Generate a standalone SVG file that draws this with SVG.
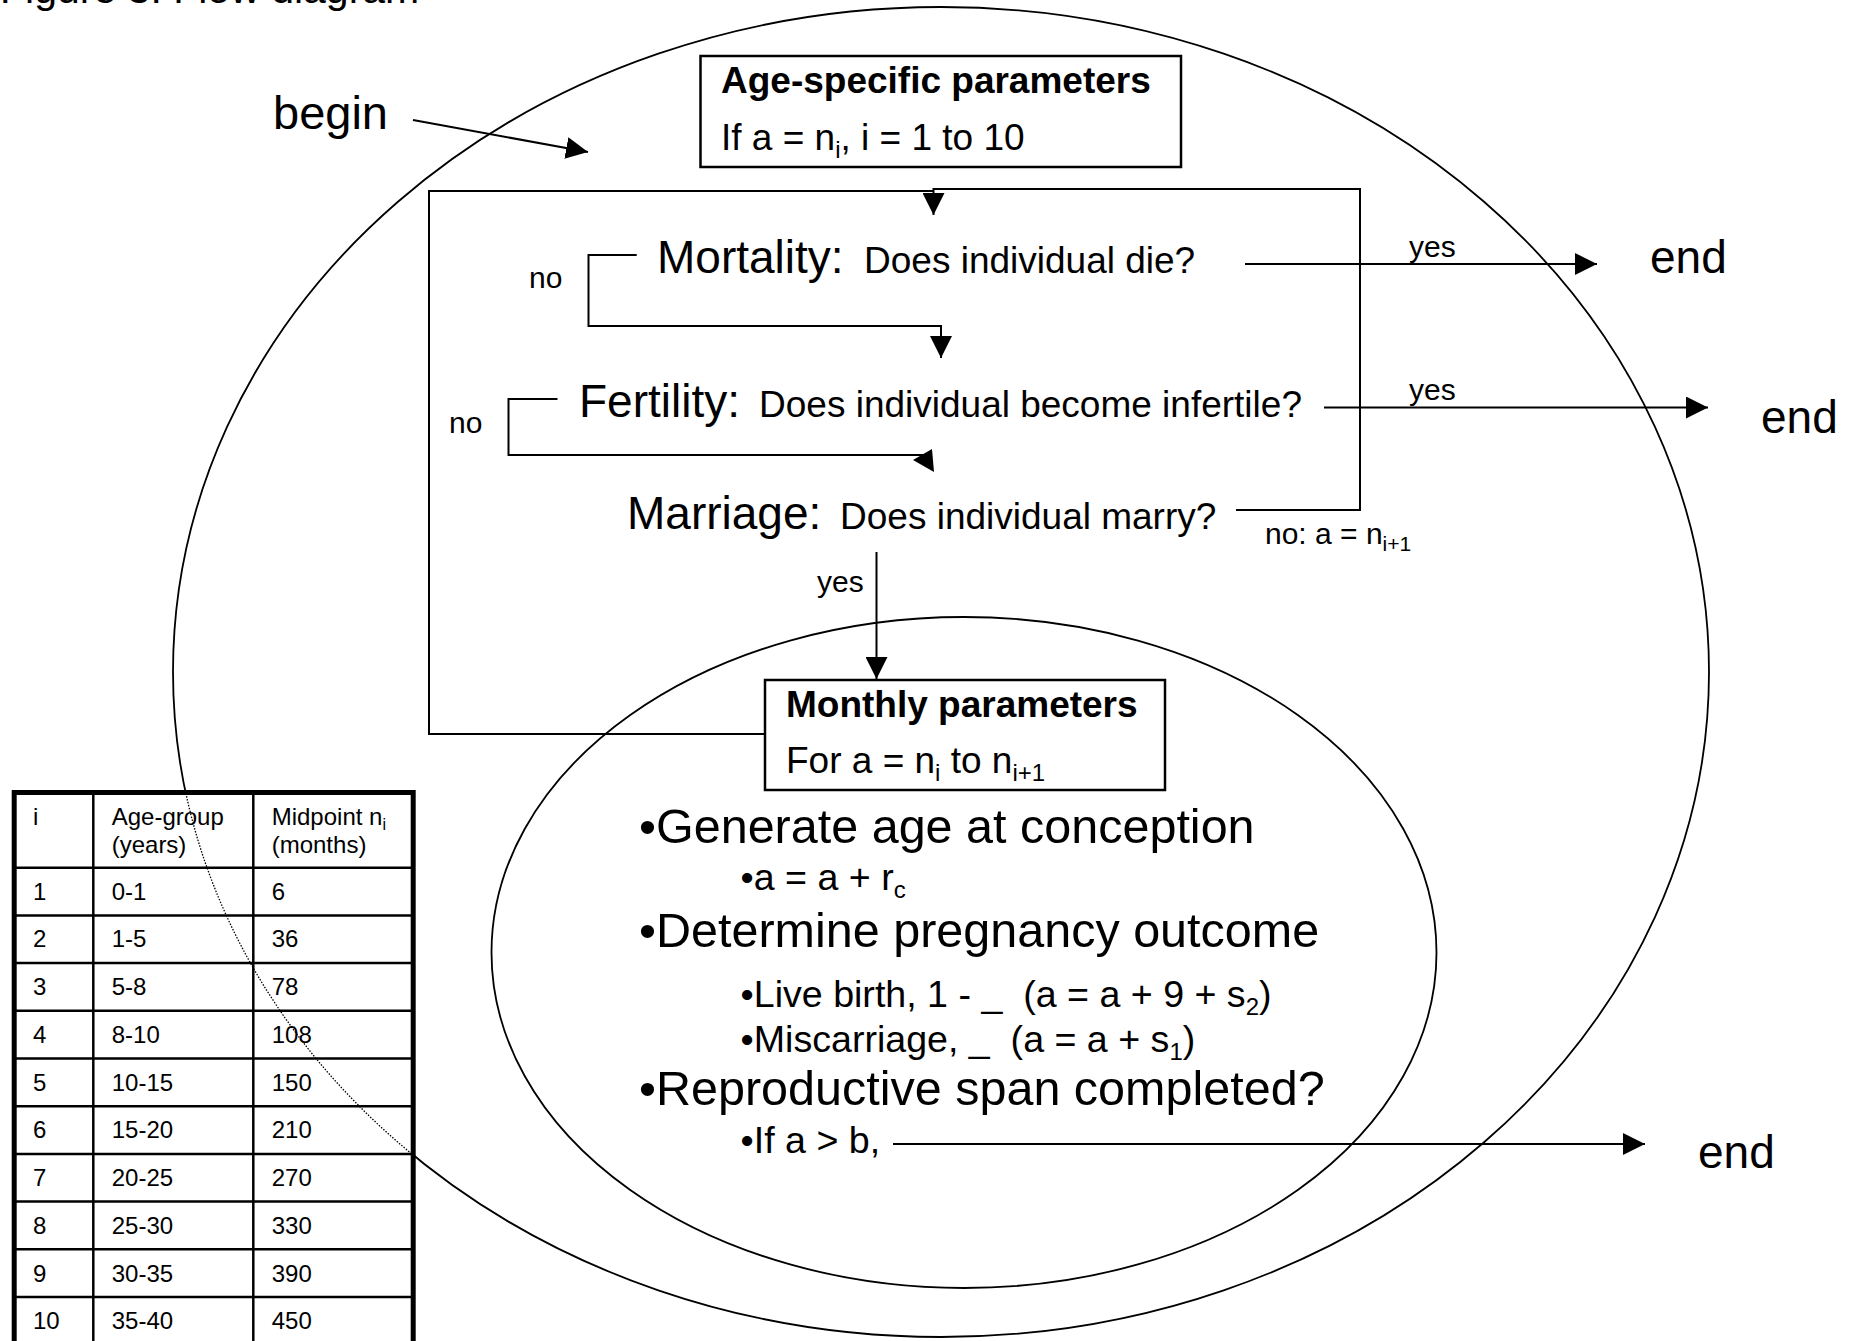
<svg xmlns="http://www.w3.org/2000/svg" width="1856" height="1341" viewBox="0 0 1856 1341">
<defs>
<style>
text{font-family:"Liberation Sans",Arial,Helvetica,sans-serif;fill:#000;white-space:pre}
.t46{font-size:46px}.t47{font-size:47px}.big{font-size:48.5px}.t37{font-size:37px}.s37{font-size:37.6px}.t30{font-size:30px}.t24{font-size:24px}
.b37{font-size:37px;font-weight:bold}
.ln{fill:none;stroke:#000;stroke-width:2}
.arr{fill:none;stroke:#000;stroke-width:2;marker-end:url(#ah)}
.ell{fill:none;stroke:#000;stroke-width:1.8}
.box{fill:#fff;stroke:#000;stroke-width:2.5}
</style>
<marker id="ah" markerUnits="userSpaceOnUse" markerWidth="22" markerHeight="22" refX="20" refY="10" orient="auto" viewBox="0 0 20 20">
<path d="M0,0 L20,10 L0,20 Z" fill="#000"/>
</marker>
<clipPath id="tclip"><rect x="16.5" y="795" width="394" height="546"/></clipPath>
</defs>
<rect width="1856" height="1341" fill="#fff"/>

<text x="0" y="3" style="font-size:41px">Figure 3: Flow diagram</text>

<g id="outer-ellipse"><ellipse class="ell" cx="941" cy="672" rx="768" ry="665"/></g>
<g id="inner-ellipse"><ellipse class="ell" cx="964" cy="952.5" rx="472.5" ry="335.5"/></g>

<g id="connectors">
<path class="arr" d="M413,120 L588,152"/>
<path class="ln" d="M765,734 H429 V191 H933.5"/>
<path class="arr" d="M1236,510 H1360 V189 H933.5 V215"/>
<path class="arr" d="M636.7,255 H588.5 V326 H941 V358"/>
<path class="arr" d="M1245,264 H1597"/>
<path class="ln" d="M557.5,399 H508.5 V455 H925"/>
<polygon points="913,460 932,449 934,472" fill="#000"/>
<path class="arr" d="M1324,407.5 H1708"/>
<path class="arr" d="M876.5,552 V679"/>
<path class="arr" d="M893,1144 H1645"/>
</g>

<g id="begin"><text class="t47" x="273" y="129">begin</text></g>
<g id="end1"><text class="t46" x="1650" y="273">end</text></g>
<g id="end2"><text class="t46" x="1761" y="433">end</text></g>
<g id="end3"><text class="t46" x="1698" y="1168">end</text></g>

<g id="age-specific">
<rect class="box" x="700.5" y="56" width="480.5" height="111"/>
<text class="b37" x="721" y="93">Age-specific parameters</text>
<text class="t37" x="721" y="150">If a = n<tspan font-size="24" dy="8">i</tspan><tspan dy="-8">, i = 1 to 10</tspan></text>
</g>

<g id="mortality">
<text class="t46" x="657" y="273">Mortality:</text>
<text class="t37" x="864" y="273">Does individual die?</text>
</g>
<g id="fertility">
<text class="t46" x="579" y="417">Fertility:</text>
<text class="t37" x="759" y="417">Does individual become infertile?</text>
</g>
<g id="marriage">
<text class="t46" x="627" y="529">Marriage:</text>
<text class="t37" x="840" y="529">Does individual marry?</text>
</g>

<g id="labels">
<text class="t30" x="529" y="288">no</text>
<text class="t30" x="449" y="433">no</text>
<text class="t30" x="1409" y="257">yes</text>
<text class="t30" x="1409" y="400">yes</text>
<text class="t30" x="817" y="592">yes</text>
<text class="t30" x="1265" y="544">no: a = n<tspan font-size="21" dy="7">i+1</tspan></text>
</g>

<g id="monthly">
<rect class="box" x="765" y="680" width="400" height="110"/>
<text class="b37" x="786" y="717">Monthly parameters</text>
<text class="t37" x="786" y="773">For a = n<tspan font-size="24" dy="8">i</tspan><tspan dy="-8"> to n</tspan><tspan font-size="24" dy="8">i+1</tspan></text>
</g>

<g id="monthly-steps">
<text class="big" x="639" y="843">•Generate age at conception</text>
<text class="s37" x="740.6" y="890">•a = a + r<tspan font-size="24" dy="8">c</tspan></text>
<text class="big" x="639" y="947">•Determine pregnancy outcome</text>
<text class="s37" x="740.6" y="1007">•Live birth, 1 - _  (a = a + 9 + s<tspan font-size="24" dy="8">2</tspan><tspan dy="-8">)</tspan></text>
<text class="s37" x="740.6" y="1052">•Miscarriage, _  (a = a + s<tspan font-size="24" dy="8">1</tspan><tspan dy="-8">)</tspan></text>
<text class="big" x="639" y="1105">•Reproductive span completed?</text>
<text class="s37" x="740.6" y="1153">•If a &gt; b,</text>
</g>

<g id="age-table">
<rect x="14.2" y="792.5" width="399" height="554" fill="#fff" stroke="none"/>
<ellipse cx="941" cy="672" rx="768" ry="665" fill="none" stroke="#000" stroke-width="1.3" stroke-dasharray="1.5 1.5" clip-path="url(#tclip)"/>
<g stroke="#000" stroke-width="2.5">
<line x1="93.3" y1="792" x2="93.3" y2="1346"/>
<line x1="253.3" y1="792" x2="253.3" y2="1346"/>
<line x1="14" y1="867.7" x2="414" y2="867.7"/>
<line x1="14" y1="915.4" x2="414" y2="915.4"/>
<line x1="14" y1="963.1" x2="414" y2="963.1"/>
<line x1="14" y1="1010.8" x2="414" y2="1010.8"/>
<line x1="14" y1="1058.5" x2="414" y2="1058.5"/>
<line x1="14" y1="1106.2" x2="414" y2="1106.2"/>
<line x1="14" y1="1153.9" x2="414" y2="1153.9"/>
<line x1="14" y1="1201.6" x2="414" y2="1201.6"/>
<line x1="14" y1="1249.3" x2="414" y2="1249.3"/>
<line x1="14" y1="1297" x2="414" y2="1297"/>
</g>
<rect x="14.2" y="792.5" width="399" height="554" fill="none" stroke="#000" stroke-width="5"/>
<g>
<text class="t24" x="33" y="825">i</text>
<text class="t24" x="111.7" y="825">Age-group</text>
<text class="t24" x="111.7" y="853">(years)</text>
<text class="t24" x="271.7" y="825">Midpoint n<tspan font-size="16" dy="5">i</tspan></text>
<text class="t24" x="271.7" y="853">(months)</text>
<text class="t24" x="33" y="899.7">1</text><text class="t24" x="111.7" y="899.7">0-1</text><text class="t24" x="271.7" y="899.7">6</text>
<text class="t24" x="33" y="947.4">2</text><text class="t24" x="111.7" y="947.4">1-5</text><text class="t24" x="271.7" y="947.4">36</text>
<text class="t24" x="33" y="995.2">3</text><text class="t24" x="111.7" y="995.2">5-8</text><text class="t24" x="271.7" y="995.2">78</text>
<text class="t24" x="33" y="1042.9">4</text><text class="t24" x="111.7" y="1042.9">8-10</text><text class="t24" x="271.7" y="1042.9">108</text>
<text class="t24" x="33" y="1090.6">5</text><text class="t24" x="111.7" y="1090.6">10-15</text><text class="t24" x="271.7" y="1090.6">150</text>
<text class="t24" x="33" y="1138.4">6</text><text class="t24" x="111.7" y="1138.4">15-20</text><text class="t24" x="271.7" y="1138.4">210</text>
<text class="t24" x="33" y="1186.1">7</text><text class="t24" x="111.7" y="1186.1">20-25</text><text class="t24" x="271.7" y="1186.1">270</text>
<text class="t24" x="33" y="1233.8">8</text><text class="t24" x="111.7" y="1233.8">25-30</text><text class="t24" x="271.7" y="1233.8">330</text>
<text class="t24" x="33" y="1281.5">9</text><text class="t24" x="111.7" y="1281.5">30-35</text><text class="t24" x="271.7" y="1281.5">390</text>
<text class="t24" x="33" y="1329.3">10</text><text class="t24" x="111.7" y="1329.3">35-40</text><text class="t24" x="271.7" y="1329.3">450</text>
</g>
</g>
</svg>
